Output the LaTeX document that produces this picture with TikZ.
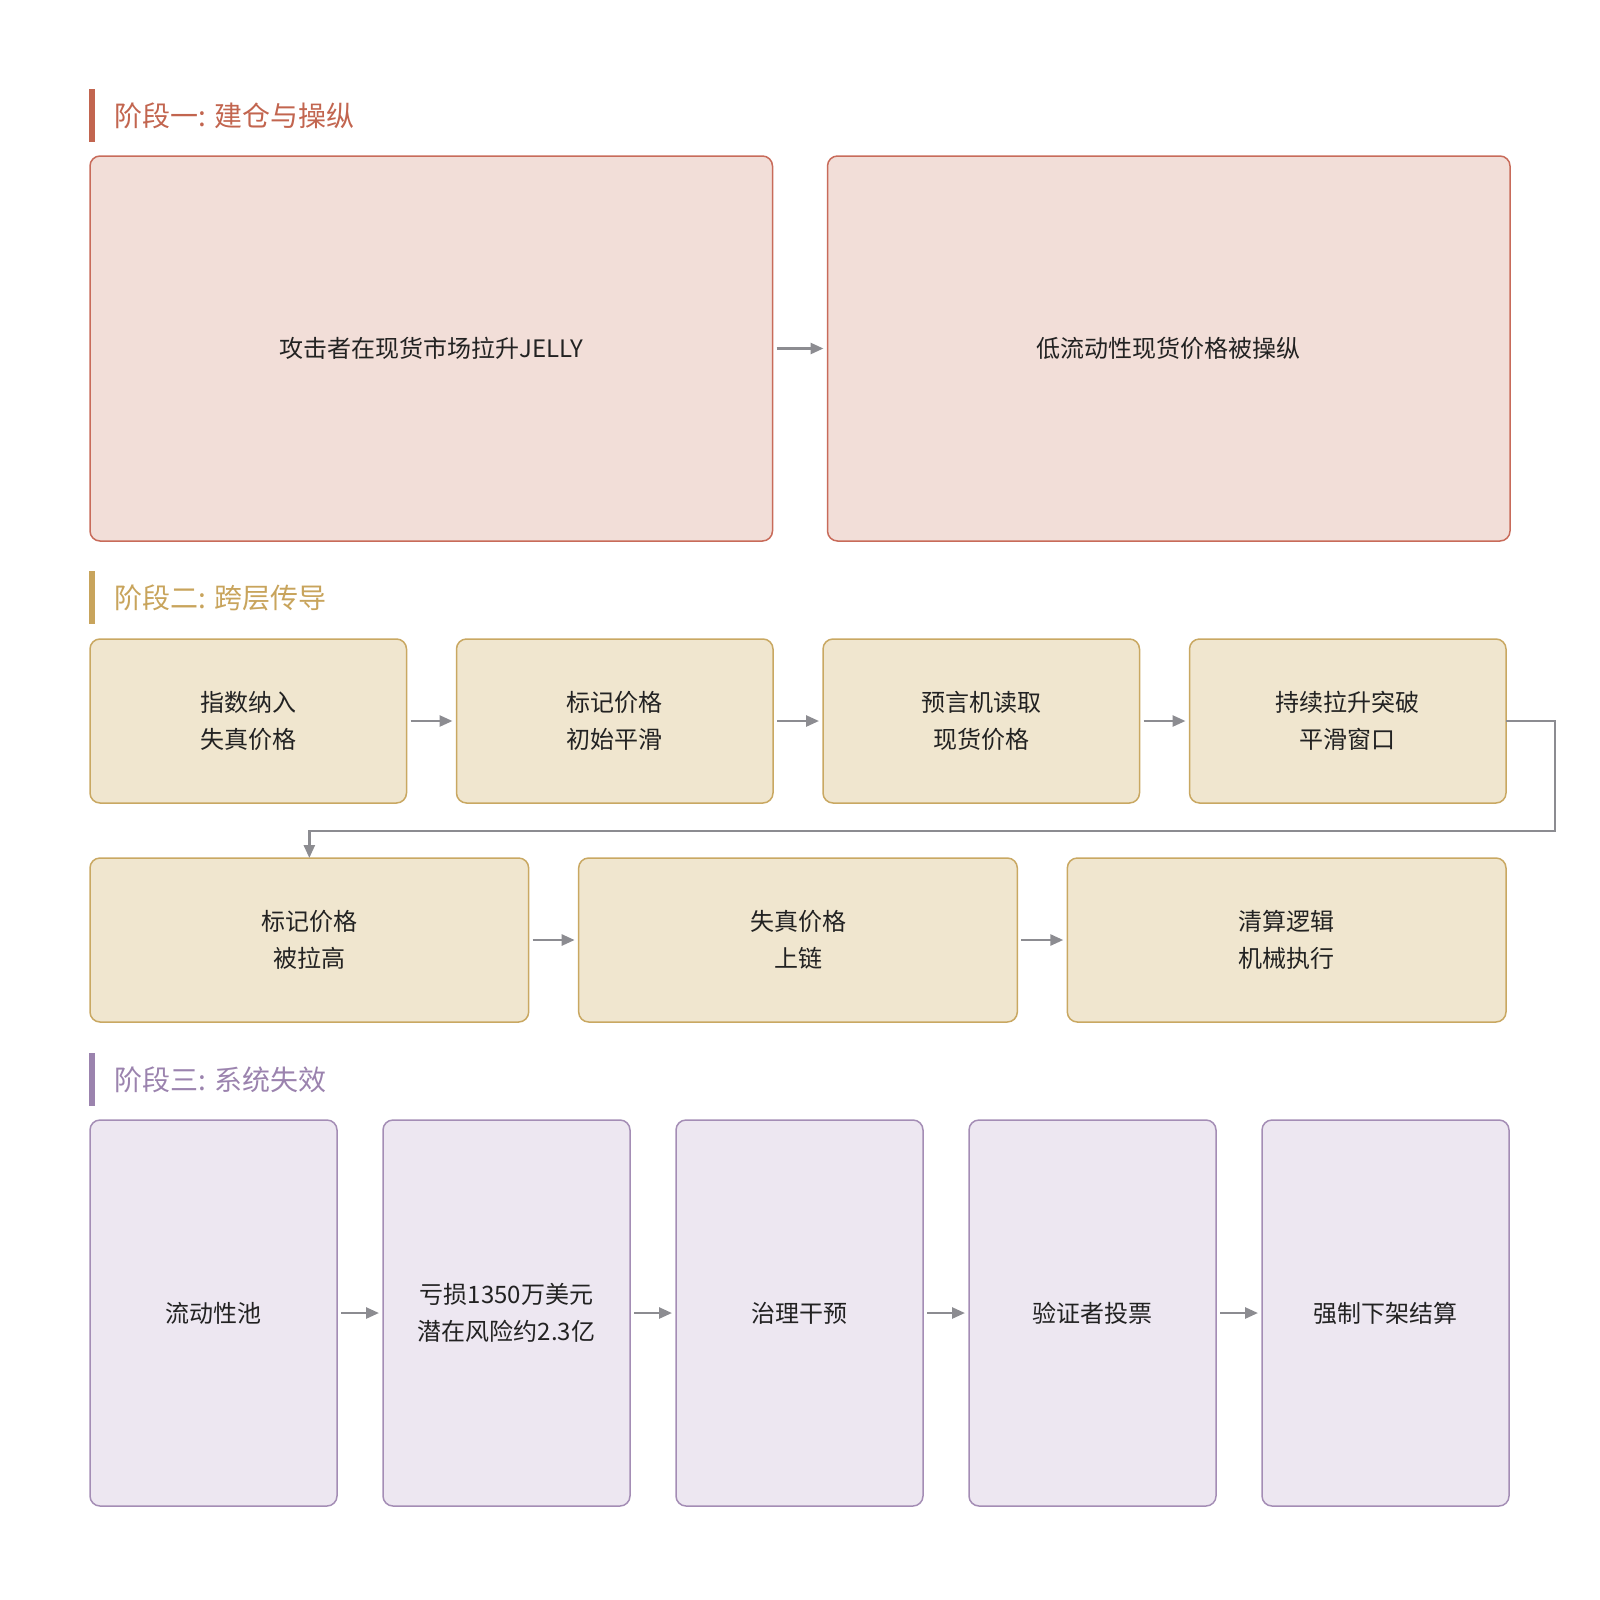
\documentclass[tikz,border=0pt]{standalone}
\usepackage{fontspec}
\setmainfont{Noto Sans CJK SC}
\usepackage{xcolor}
\usepackage{tikz}
\usetikzlibrary{calc,positioning,arrows.meta}
\definecolor{redfill}{HTML}{F2DED8}
\definecolor{redline}{HTML}{C86B5A}
\definecolor{redtitle}{HTML}{C2654F}
\definecolor{sandfill}{HTML}{F0E6CF}
\definecolor{sandline}{HTML}{C9A862}
\definecolor{sandtitle}{HTML}{C8A45C}
\definecolor{lilacfill}{HTML}{EDE7F1}
\definecolor{lilacline}{HTML}{A48DB5}
\definecolor{lilactitle}{HTML}{9B83AE}
\definecolor{textgray}{HTML}{222222}
\definecolor{arrowgray}{HTML}{8C8C91}
\tikzset{
  link/.style={-{Triangle[length=6.5pt, width=5.5pt]}, line width=1.3pt, draw=arrowgray},
  flow/.style={link, shorten <=2pt, shorten >=2pt},
  box/.style={draw, rounded corners=5pt, align=center, inner sep=0pt, outer sep=0pt,
    line width=0.75pt, text=textgray, font=\fontsize{12}{18.5}\selectfont},
  redbox/.style={box, draw=redline, fill=redfill, minimum width=341.25pt, minimum height=192.5pt},
  sandbox/.style={box, draw=sandline, fill=sandfill, minimum height=82pt},
  lilacbox/.style={box, draw=lilacline, fill=lilacfill, minimum width=123.5pt, minimum height=193pt},
  phase/.style={anchor=west, inner sep=0pt, font=\fontsize{14}{16}\selectfont}
}
\begin{document}
\begin{tikzpicture}[x=0.5pt, y=-0.5pt, node distance=25pt]
  \useasboundingbox (0,0) rectangle (1600,1600);

  \fill[redtitle] (89,89) rectangle (95,142);
  \node[phase, text=redtitle] (t1) at (114,116) {阶段一: 建仓与操纵};
  \node[redbox, anchor=north west] (a1) at (90,156) {攻击者在现货市场拉升JELLY};
  \node[redbox, right=27.5pt of a1] (a2) {低流动性现货价格被操纵};
  \draw[flow] (a1) -- (a2);

  \fill[sandtitle] (89,571) rectangle (95,624);
  \node[phase, text=sandtitle] (t2) at (114,598) {阶段二: 跨层传导};
  \node[sandbox, minimum width=158.25pt, anchor=north west] (b1) at (90,639) {指数纳入\\失真价格};
  \node[sandbox, minimum width=158.25pt, right=of b1] (b2) {标记价格\\初始平滑};
  \node[sandbox, minimum width=158.25pt, right=of b2] (b3) {预言机读取\\现货价格};
  \node[sandbox, minimum width=158.25pt, right=of b3] (b4) {持续拉升突破\\平滑窗口};
  \foreach \i/\j in {1/2,2/3,3/4}
    \draw[flow] (b\i) -- (b\j);

  \node[sandbox, minimum width=219.33pt, anchor=north west] (c1) at (90,858) {标记价格\\被拉高};
  \node[sandbox, minimum width=219.33pt, right=of c1] (c2) {失真价格\\上链};
  \node[sandbox, minimum width=219.33pt, right=of c2] (c3) {清算逻辑\\机械执行};
  \foreach \i/\j in {1/2,2/3}
    \draw[flow] (c\i) -- (c\j);

  \coordinate (bend) at ($(c1.north)+(0,13.5pt)$);
  \draw[link] (b4.east) -- ++(24.5pt,0) |- (bend) -- (c1.north);

  \fill[lilactitle] (89,1053) rectangle (95,1106);
  \node[phase, text=lilactitle] (t3) at (114,1080) {阶段三: 系统失效};
  \node[lilacbox, anchor=north west] (d1) at (90,1120) {流动性池};
  \node[lilacbox, right=23pt of d1] (d2) {亏损1350万美元\\潜在风险约2.3亿};
  \node[lilacbox, right=23pt of d2] (d3) {治理干预};
  \node[lilacbox, right=23pt of d3] (d4) {验证者投票};
  \node[lilacbox, right=23pt of d4] (d5) {强制下架结算};
  \foreach \i/\j in {1/2,2/3,3/4,4/5}
    \draw[flow] (d\i) -- (d\j);
\end{tikzpicture}
\end{document}
